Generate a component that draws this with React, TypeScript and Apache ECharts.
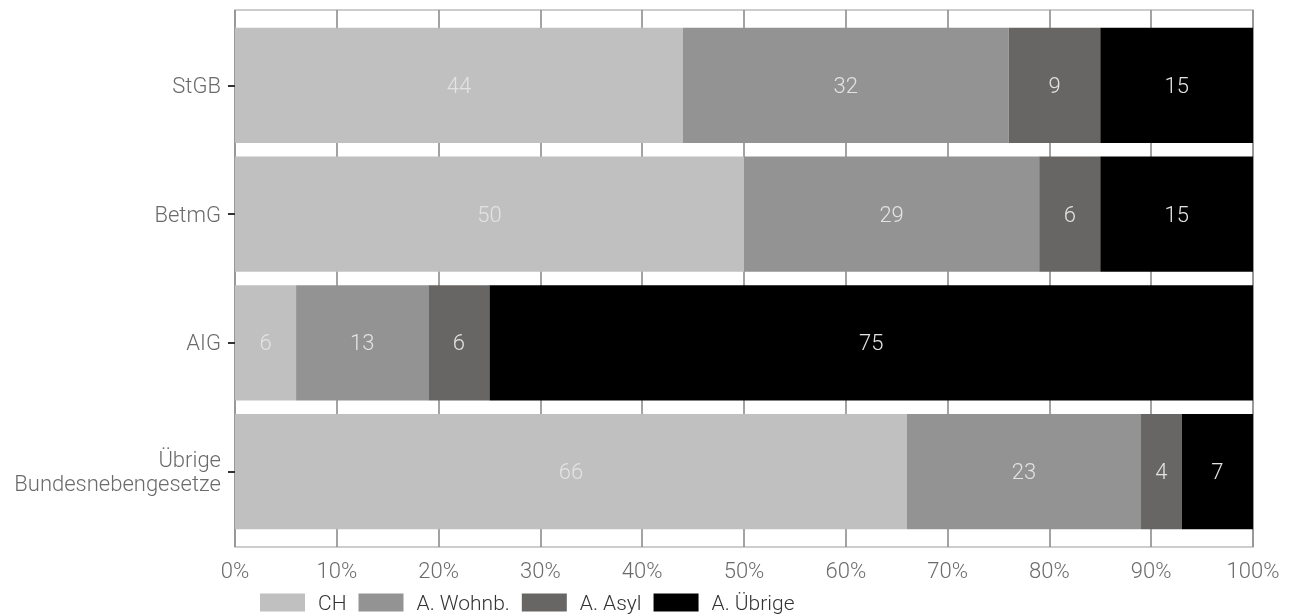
import React, { useEffect, useRef } from "react";
import * as echarts from "echarts";

const categories = ["StGB", "BetmG", "AIG", "Übrige\nBundesnebengesetze"];
const seriesNames = ["CH", "A. Wohnb.", "A. Asyl", "A. Übrige"];
const valuesCH = [44, 50, 6, 66];
const valuesWohnb = [32, 29, 13, 23];
const valuesAsyl = [9, 6, 6, 4];
const valuesUebrige = [15, 15, 75, 7];
const colors = ["#c0c0c0", "#939393", "#676664", "#000000"];
const xTicks = [0, 10, 20, 30, 40, 50, 60, 70, 80, 90, 100];

const FONT = "Roboto";
const FS = 22;

export default function App() {
  const ref = useRef<HTMLDivElement>(null);
  useEffect(() => {
    if (!ref.current) return;
    const chart = echarts.init(ref.current, undefined, { renderer: "svg" });
    const allValues = [valuesCH, valuesWohnb, valuesAsyl, valuesUebrige];
    chart.setOption({
      animation: false,
      textStyle: { fontFamily: FONT },
      grid: [
        { left: 235, right: 43, top: 10, bottom: 69, show: true, borderColor: "#bdbdbd", borderWidth: 1.5, backgroundColor: "#ffffff" },
        { left: 235, right: 43, top: 21, bottom: 80 },
      ],
      xAxis: [
        {
          gridIndex: 0,
          type: "value",
          min: xTicks[0],
          max: xTicks[xTicks.length - 1],
          interval: 10,
          axisLine: { show: false },
          axisTick: { show: false },
          splitLine: { show: true, lineStyle: { color: "#8c8c8c", width: 1.6 } },
          axisLabel: {
            formatter: "{value}%",
            color: "#6b6b6b",
            fontSize: FS,
            fontWeight: 300,
            fontFamily: FONT,
            margin: 12,
          },
        },
        {
          gridIndex: 1,
          type: "value",
          min: 0,
          max: 100,
          show: false,
        },
      ],
      yAxis: [
        { gridIndex: 0, type: "value", show: false, splitLine: { show: false } },
        {
          gridIndex: 1,
          type: "category",
          inverse: true,
          data: categories,
          axisLine: { show: false },
          axisTick: { show: true, alignWithLabel: true, length: 7, lineStyle: { color: "#333333", width: 2 } },
          axisLabel: {
            color: "#6b6b6b",
            fontSize: FS,
            fontWeight: 300,
            fontFamily: FONT,
            margin: 14,
            align: "right",
            lineHeight: 24,
          },
        },
      ],
      legend: {
        data: seriesNames,
        left: 260,
        top: 592,
        padding: 0,
        itemWidth: 45,
        itemHeight: 18,
        itemGap: 12,
        icon: "rect",
        textStyle: { color: "#333333", fontSize: 21, fontWeight: 300, fontFamily: FONT, padding: [0, 0, 0, 8] },
      },
      series: seriesNames.map((name, i) => ({
        name,
        type: "bar",
        stack: "total",
        xAxisIndex: 1,
        yAxisIndex: 1,
        barCategoryGap: "10.5%",
        data: allValues[i],
        itemStyle: { color: colors[i] },
        label: {
          show: true,
          position: "inside",
          color: "#e3e3e3",
          fontSize: FS,
          fontWeight: 300,
          fontFamily: FONT,
        },
      })),
    });
    return () => chart.dispose();
  }, []);
  return <div ref={ref} style={{ position: "fixed", left: 0, top: 0, width: 1296, height: 616 }} />;
}
